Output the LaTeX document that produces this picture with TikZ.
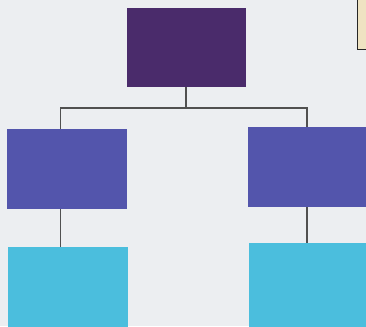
\documentclass[tikz,border=0pt]{standalone}
\usepackage{xcolor}
\definecolor{bgpaper}{HTML}{ECEEF1}
\definecolor{toppurple}{HTML}{4A2B6B}
\definecolor{midblue}{HTML}{5355AC}
\definecolor{lowcyan}{HTML}{4BBEDD}
\definecolor{linegray}{HTML}{505050}
\definecolor{cream}{HTML}{EFE3C2}
\begin{document}
\begin{tikzpicture}[x=1pt,y=-1pt,
  box/.style={anchor=north west,inner sep=0pt,outer sep=0pt,draw=none},
  conn/.style={draw=linegray,line width=1.6pt}]
\fill[bgpaper] (0,0) rectangle (366,326);
\useasboundingbox (0,0) rectangle (366,326);
% partial cream box at top right
\fill[cream,draw=black!85,line width=1.8pt] (357.5,-5) rectangle (372,49.5);
\node[box,fill=toppurple,minimum width=119pt,minimum height=79pt] (top) at (127,8) {};
\node[box,fill=midblue,minimum width=120pt,minimum height=80pt] (lm) at (7,129) {};
\node[box,fill=midblue,minimum width=118pt,minimum height=80pt] (rm) at (248,127) {};
\node[box,fill=lowcyan,minimum width=120pt,minimum height=80pt] (lb) at (8,247) {};
\node[box,fill=lowcyan,minimum width=118pt,minimum height=84pt] (rb) at (249,243) {};
\coordinate (jl) at (60.5,108);
\coordinate (jr) at (307,108);
\coordinate (jt) at (186,108);
\draw[conn] (jt |- top.south) -- (jt);
\draw[conn] (jl |- lm.north) -- (jl) -- (jr) -- (jr |- rm.north);
\draw[conn] (jl |- lm.south) -- (jl |- lb.north);
\draw[conn] (jr |- rm.south) -- (jr |- rb.north);
\end{tikzpicture}
\end{document}
